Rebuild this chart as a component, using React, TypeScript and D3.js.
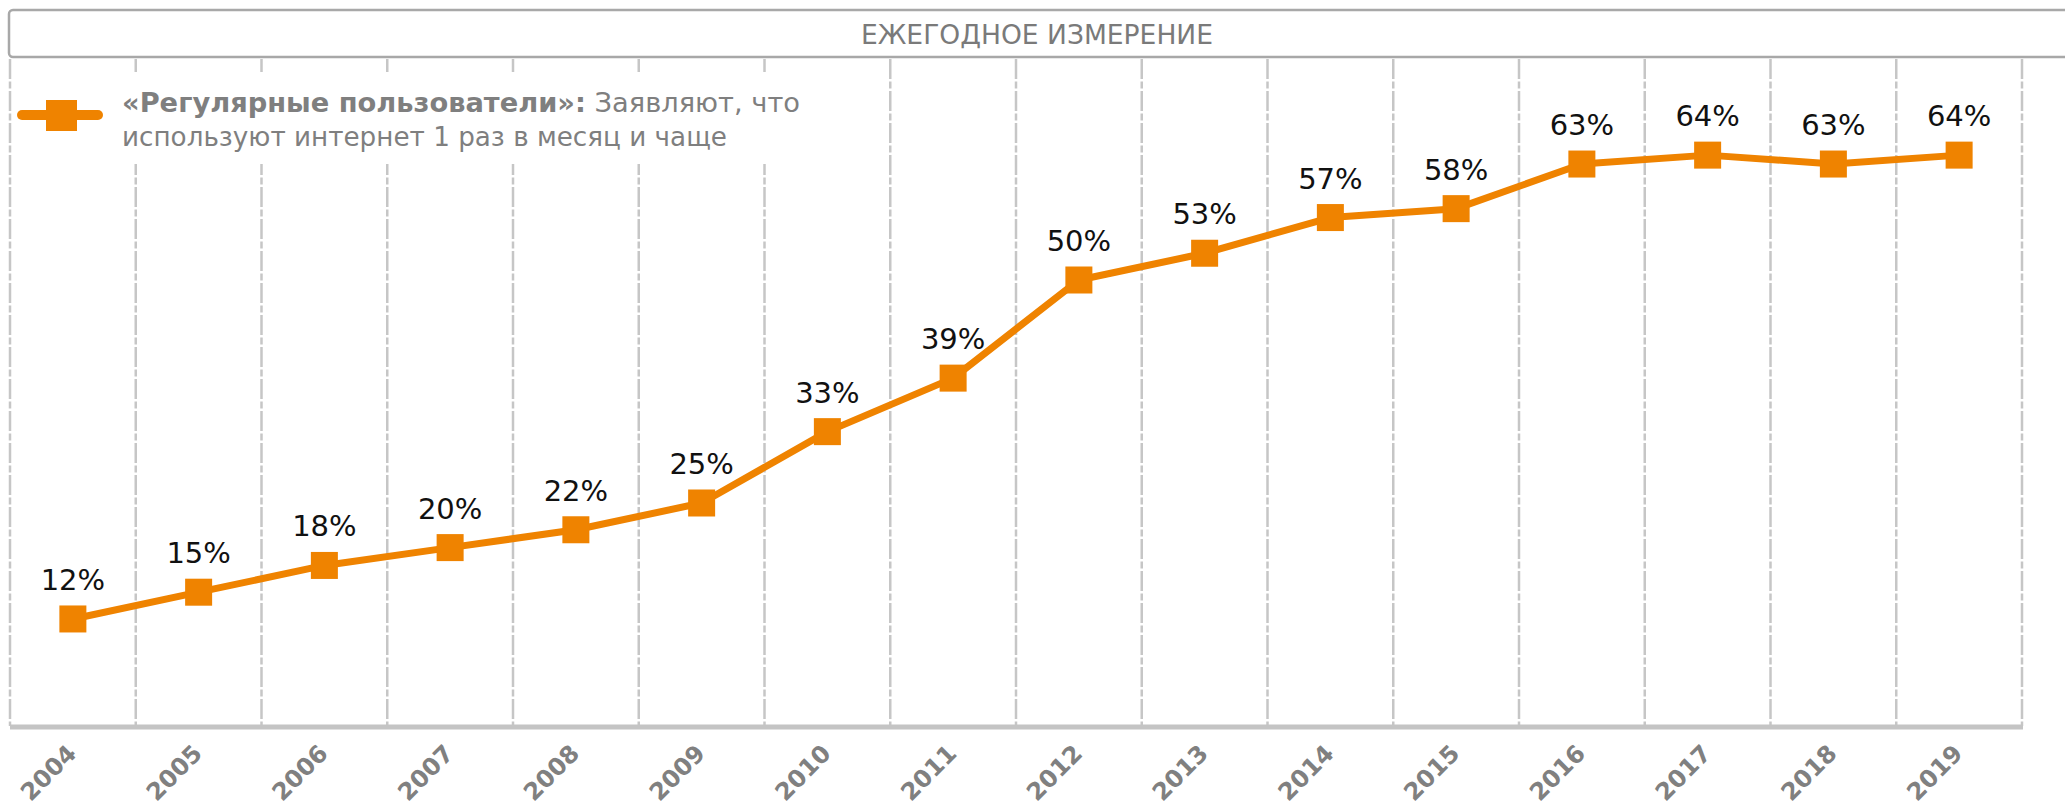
import React from "react";
import * as d3 from "d3";

const years = ["2004","2005","2006","2007","2008","2009","2010","2011","2012","2013","2014","2015","2016","2017","2018","2019"];
const values = [12,15,18,20,22,25,33,39,50,53,57,58,63,64,63,64];
const headerTitle = "ЕЖЕГОДНОЕ ИЗМЕРЕНИЕ";
const legendBold = "«Регулярные пользователи»:";
const legendRest = " Заявляют, что";
const legendLine2 = "используют интернет 1 раз в месяц и чаще";

const W = 2065, H = 810;
const ORANGE = "#EF8300";
const FONT = "'DejaVu Sans', Verdana, sans-serif";

export default function App() {
  const x = d3.scaleBand<string>().domain(years).range([10, 2022]).padding(0);
  const y = d3.scaleLinear().domain([0, 75]).range([726, 57]);
  const cx = (yr: string) => (x(yr) as number) + x.bandwidth() / 2;
  const line = d3.line<number>().x((_, i) => cx(years[i])).y(d => y(d));
  const bounds = years.map(yr => x(yr) as number).concat([x.range()[1]]);
  const ms = 27;

  return (
    <svg width={W} height={H} style={{ position: "absolute", left: 0, top: 0, background: "#fff" }} fontFamily={FONT}>
      {/* gridlines */}
      {bounds.map((bx, i) => (
        <line key={"g" + i} x1={bx} x2={bx} y1={59} y2={y(0)} stroke="#c6c6c6" strokeWidth={2.5} strokeDasharray="20 2.5 7 2.5" />
      ))}
      {/* header box */}
      <rect x={9} y={10} width={2070} height={47} rx={4} fill="#fff" stroke="#a8a8a8" strokeWidth={2.5} />
      <text x={1037} y={44} textAnchor="middle" fontSize={27} fill="#7a7a7a" textLength={352} lengthAdjust="spacingAndGlyphs">{headerTitle}</text>
      {/* legend */}
      <rect x={13} y={72} width={795} height={92} fill="#fff" />
      <line x1={22} x2={98} y1={115} y2={115} stroke={ORANGE} strokeWidth={10} strokeLinecap="round" />
      <rect x={46} y={100} width={31} height={31} fill={ORANGE} />
      <text x={122} y={112} fontSize={26} fill="#7f7f7f" textLength={678} lengthAdjust="spacingAndGlyphs">
        <tspan fontWeight="bold">{legendBold}</tspan>
        <tspan>{legendRest}</tspan>
      </text>
      <text x={122} y={146} fontSize={26} fill="#7f7f7f" textLength={605} lengthAdjust="spacingAndGlyphs">{legendLine2}</text>
      {/* axis */}
      <line x1={10} x2={2023} y1={y(0) + 1} y2={y(0) + 1} stroke="#c4c4c4" strokeWidth={5} />
      {/* x labels */}
      {years.map(yr => (
        <text key={"xl" + yr} transform={`translate(${cx(yr) + 5},${755}) rotate(-45)`} textAnchor="end" fontSize={24} fontWeight="bold" fill="#808080">{yr}</text>
      ))}
      {/* series */}
      <path d={line(values) || ""} fill="none" stroke={ORANGE} strokeWidth={7} strokeLinejoin="round" />
      {values.map((v, i) => (
        <rect key={"m" + i} x={cx(years[i]) - ms / 2} y={y(v) - ms / 2} width={ms} height={ms} fill={ORANGE} />
      ))}
      {values.map((v, i) => (
        <text key={"l" + i} x={cx(years[i])} y={y(v) - 29} textAnchor="middle" fontSize={29} fill="#111">{v}%</text>
      ))}
    </svg>
  );
}
